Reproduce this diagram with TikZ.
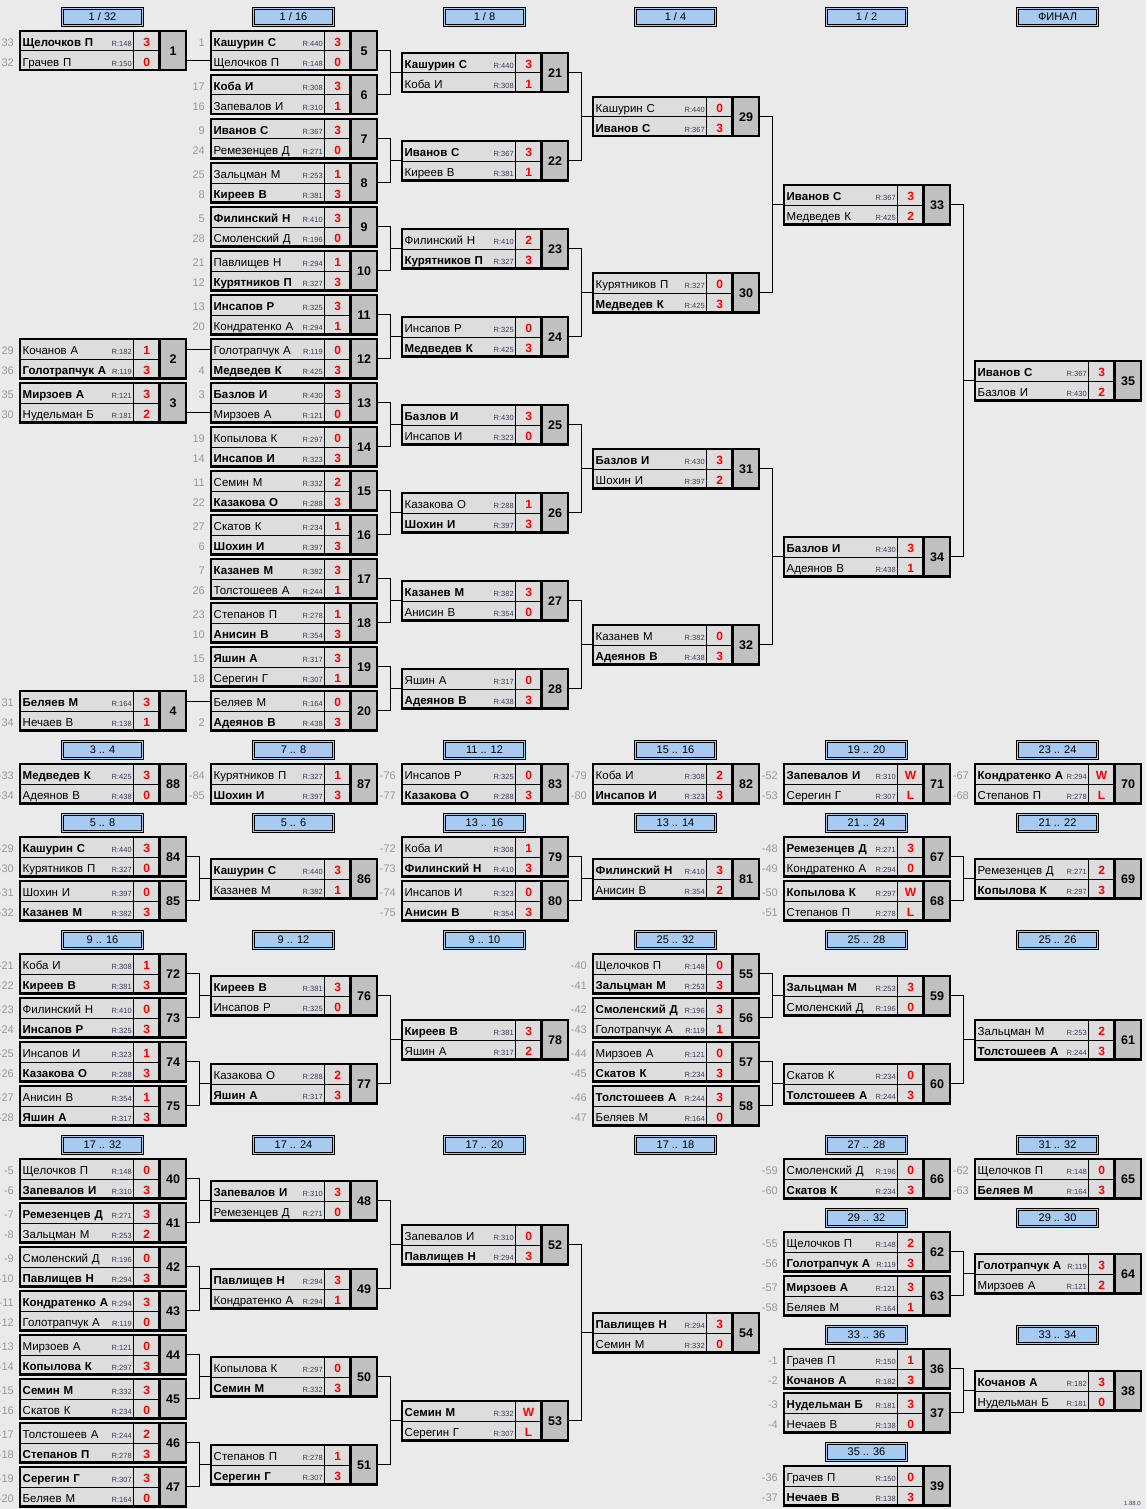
\documentclass[tikz,border=0pt]{standalone}
\usepackage{fontspec}
\setmainfont{Liberation Sans}
\usetikzlibrary{positioning}
\definecolor{bgcol}{HTML}{EAEAEA}
\definecolor{cellcol}{HTML}{DDDDDD}
\definecolor{numcol}{HTML}{C0C0C0}
\definecolor{hdrcol}{HTML}{A6CAF0}
\definecolor{ratecol}{HTML}{3C3C5C}
\definecolor{seedcol}{HTML}{999999}
\tikzset{
namecell/.style={
  fill=cellcol,
  text width=108pt,
  inner xsep=2.5pt,
  inner ysep=0pt,
  minimum height=19.5pt,
  text height=11pt,
  text depth=0pt,
  align=left,
  font=\fontsize{11.5}{13}\selectfont
 },
scorecell/.style={fill=cellcol, minimum width=26pt, minimum height=19.5pt, inner sep=0pt,
  text height=11pt, text depth=0pt, text=red, font=\fontsize{12}{13}\selectfont\bfseries},
numcell/.style={fill=numcol, minimum width=26pt, minimum height=39pt, inner sep=0pt,
  text height=10pt, text depth=0pt, font=\fontsize{12.5}{13}\selectfont\bfseries},
rating/.style={anchor=south east, inner xsep=1.5pt, inner ysep=4pt, text depth=0pt,
  text=ratecol, font=\fontsize{7.5}{8}\selectfont},
seed/.style={inner sep=0pt, text height=11pt, text depth=0pt, text=seedcol,
  font=\fontsize{11}{13}\selectfont},
hdr/.style={draw, fill=hdrcol, line width=0.9pt, minimum width=82pt, minimum height=19pt,
  inner sep=0pt, font=\fontsize{11}{13}\selectfont},
hdrin/.style={line width=0.9pt},
frame/.style={line width=2.2pt},
midbar/.style={line width=3pt},
cellline/.style={line width=0.8pt},
link/.style={draw, line width=0.9pt}
}
\newcommand{\W}[1]{\textbf{#1}}
% one match: number, x, y, name/rating/score of both rows
\newcommand{\drawmatch}[9]{%
  \node[namecell, anchor=north west] (a#1) at (#2,#3) {#4};
  \node[namecell, below=0pt of a#1] (b#1) {#7};
  \node[rating] (ra#1) at (a#1.south east) {R:#5};
  \node[rating] (rb#1) at (b#1.south east) {R:#8};
  \node[scorecell, right=0pt of a#1] (s#1) {#6};
  \node[scorecell, right=0pt of b#1] (t#1) {#9};
  \node[numcell, anchor=north west] (n#1) at (s#1.north east) {#1};
  \draw[cellline] (a#1.south west) -- (s#1.south east) (a#1.north east) -- (b#1.south east);
  \draw[frame] (a#1.north west) rectangle (n#1.south east);
  \draw[midbar] (s#1.north east) -- (t#1.south east);
}

\begin{document}
\begin{tikzpicture}[x=1pt, y=-1pt]
 \fill[bgcol] (0,0) rectangle (1146,1509);
 \useasboundingbox (0,0) rectangle (1146,1509);

 % headers
 \foreach \cx/\cy/\t [count=\i] in {102.5/17/{1 / 32}, 293.5/17/{1 / 16}, 484.5/17/{1 / 8},
   675.5/17/{1 / 4}, 866.5/17/{1 / 2}, 1057.5/17/ФИНАЛ,
   102.5/750/3 .. 4, 293.5/750/7 .. 8, 484.5/750/11 .. 12, 675.5/750/15 .. 16,
   866.5/750/19 .. 20, 1057.5/750/23 .. 24,
   102.5/823/5 .. 8, 293.5/823/5 .. 6, 484.5/823/13 .. 16, 675.5/823/13 .. 14,
   866.5/823/21 .. 24, 1057.5/823/21 .. 22,
   102.5/940/9 .. 16, 293.5/940/9 .. 12, 484.5/940/9 .. 10, 675.5/940/25 .. 32,
   866.5/940/25 .. 28, 1057.5/940/25 .. 26,
   102.5/1145/17 .. 32, 293.5/1145/17 .. 24, 484.5/1145/17 .. 20, 675.5/1145/17 .. 18,
   866.5/1145/27 .. 28, 1057.5/1145/31 .. 32,
   866.5/1218/29 .. 32, 1057.5/1218/29 .. 30, 866.5/1335/33 .. 36, 1057.5/1335/33 .. 34,
   866.5/1452/35 .. 36}
  {\node[hdr] (hd\i) at (\cx,\cy) {\t};
   \draw[hdrin] ([shift={(2.3pt,-2.3pt)}]hd\i.north west) rectangle ([shift={(-2.3pt,2.3pt)}]hd\i.south east);}

 % 1/32
 \drawmatch{1}{20}{31}{\W{Щелочков П}}{148}{3}{Грачев П}{150}{0}
 \drawmatch{2}{20}{339}{Кочанов А}{182}{1}{\W{Голотрапчук А}}{119}{3}
 \drawmatch{3}{20}{383}{\W{Мирзоев А}}{121}{3}{Нудельман Б}{181}{2}
 \drawmatch{4}{20}{691}{\W{Беляев М}}{164}{3}{Нечаев В}{138}{1}
 % 1/16
 \drawmatch{5}{211}{31}{\W{Кашурин С}}{440}{3}{Щелочков П}{148}{0}
 \drawmatch{6}{211}{75}{\W{Коба И}}{308}{3}{Запевалов И}{310}{1}
 \drawmatch{7}{211}{119}{\W{Иванов С}}{367}{3}{Ремезенцев Д}{271}{0}
 \drawmatch{8}{211}{163}{Зальцман М}{253}{1}{\W{Киреев В}}{381}{3}
 \drawmatch{9}{211}{207}{\W{Филинский Н}}{410}{3}{Смоленский Д}{196}{0}
 \drawmatch{10}{211}{251}{Павлищев Н}{294}{1}{\W{Курятников П}}{327}{3}
 \drawmatch{11}{211}{295}{\W{Инсапов Р}}{325}{3}{Кондратенко А}{294}{1}
 \drawmatch{12}{211}{339}{Голотрапчук А}{119}{0}{\W{Медведев К}}{425}{3}
 \drawmatch{13}{211}{383}{\W{Базлов И}}{430}{3}{Мирзоев А}{121}{0}
 \drawmatch{14}{211}{427}{Копылова К}{297}{0}{\W{Инсапов И}}{323}{3}
 \drawmatch{15}{211}{471}{Семин М}{332}{2}{\W{Казакова О}}{288}{3}
 \drawmatch{16}{211}{515}{Скатов К}{234}{1}{\W{Шохин И}}{397}{3}
 \drawmatch{17}{211}{559}{\W{Казанев М}}{382}{3}{Толстошеев А}{244}{1}
 \drawmatch{18}{211}{603}{Степанов П}{278}{1}{\W{Анисин В}}{354}{3}
 \drawmatch{19}{211}{647}{\W{Яшин А}}{317}{3}{Серегин Г}{307}{1}
 \drawmatch{20}{211}{691}{Беляев М}{164}{0}{\W{Адеянов В}}{438}{3}
 % 1/8
 \drawmatch{21}{402}{53}{\W{Кашурин С}}{440}{3}{Коба И}{308}{1}
 \drawmatch{22}{402}{141}{\W{Иванов С}}{367}{3}{Киреев В}{381}{1}
 \drawmatch{23}{402}{229}{Филинский Н}{410}{2}{\W{Курятников П}}{327}{3}
 \drawmatch{24}{402}{317}{Инсапов Р}{325}{0}{\W{Медведев К}}{425}{3}
 \drawmatch{25}{402}{405}{\W{Базлов И}}{430}{3}{Инсапов И}{323}{0}
 \drawmatch{26}{402}{493}{Казакова О}{288}{1}{\W{Шохин И}}{397}{3}
 \drawmatch{27}{402}{581}{\W{Казанев М}}{382}{3}{Анисин В}{354}{0}
 \drawmatch{28}{402}{669}{Яшин А}{317}{0}{\W{Адеянов В}}{438}{3}
 % 1/4
 \drawmatch{29}{593}{97}{Кашурин С}{440}{0}{\W{Иванов С}}{367}{3}
 \drawmatch{30}{593}{273}{Курятников П}{327}{0}{\W{Медведев К}}{425}{3}
 \drawmatch{31}{593}{449}{\W{Базлов И}}{430}{3}{Шохин И}{397}{2}
 \drawmatch{32}{593}{625}{Казанев М}{382}{0}{\W{Адеянов В}}{438}{3}
 % 1/2, final
 \drawmatch{33}{784}{185}{\W{Иванов С}}{367}{3}{Медведев К}{425}{2}
 \drawmatch{34}{784}{537}{\W{Базлов И}}{430}{3}{Адеянов В}{438}{1}
 \drawmatch{35}{975}{361}{\W{Иванов С}}{367}{3}{Базлов И}{430}{2}

 % places 3..24
 \drawmatch{88}{20}{764}{\W{Медведев К}}{425}{3}{Адеянов В}{438}{0}
 \drawmatch{87}{211}{764}{Курятников П}{327}{1}{\W{Шохин И}}{397}{3}
 \drawmatch{83}{402}{764}{Инсапов Р}{325}{0}{\W{Казакова О}}{288}{3}
 \drawmatch{82}{593}{764}{Коба И}{308}{2}{\W{Инсапов И}}{323}{3}
 \drawmatch{71}{784}{764}{\W{Запевалов И}}{310}{W}{Серегин Г}{307}{L}
 \drawmatch{70}{975}{764}{\W{Кондратенко А}}{294}{W}{Степанов П}{278}{L}
 \drawmatch{84}{20}{837}{\W{Кашурин С}}{440}{3}{Курятников П}{327}{0}
 \drawmatch{85}{20}{881}{Шохин И}{397}{0}{\W{Казанев М}}{382}{3}
 \drawmatch{86}{211}{859}{\W{Кашурин С}}{440}{3}{Казанев М}{382}{1}
 \drawmatch{79}{402}{837}{Коба И}{308}{1}{\W{Филинский Н}}{410}{3}
 \drawmatch{80}{402}{881}{Инсапов И}{323}{0}{\W{Анисин В}}{354}{3}
 \drawmatch{81}{593}{859}{\W{Филинский Н}}{410}{3}{Анисин В}{354}{2}
 \drawmatch{67}{784}{837}{\W{Ремезенцев Д}}{271}{3}{Кондратенко А}{294}{0}
 \drawmatch{68}{784}{881}{\W{Копылова К}}{297}{W}{Степанов П}{278}{L}
 \drawmatch{69}{975}{859}{Ремезенцев Д}{271}{2}{\W{Копылова К}}{297}{3}
 % places 9..32
 \drawmatch{72}{20}{954}{Коба И}{308}{1}{\W{Киреев В}}{381}{3}
 \drawmatch{73}{20}{998}{Филинский Н}{410}{0}{\W{Инсапов Р}}{325}{3}
 \drawmatch{74}{20}{1042}{Инсапов И}{323}{1}{\W{Казакова О}}{288}{3}
 \drawmatch{75}{20}{1086}{Анисин В}{354}{1}{\W{Яшин А}}{317}{3}
 \drawmatch{76}{211}{976}{\W{Киреев В}}{381}{3}{Инсапов Р}{325}{0}
 \drawmatch{77}{211}{1064}{Казакова О}{288}{2}{\W{Яшин А}}{317}{3}
 \drawmatch{78}{402}{1020}{\W{Киреев В}}{381}{3}{Яшин А}{317}{2}
 \drawmatch{55}{593}{954}{Щелочков П}{148}{0}{\W{Зальцман М}}{253}{3}
 \drawmatch{56}{593}{998}{\W{Смоленский Д}}{196}{3}{Голотрапчук А}{119}{1}
 \drawmatch{57}{593}{1042}{Мирзоев А}{121}{0}{\W{Скатов К}}{234}{3}
 \drawmatch{58}{593}{1086}{\W{Толстошеев А}}{244}{3}{Беляев М}{164}{0}
 \drawmatch{59}{784}{976}{\W{Зальцман М}}{253}{3}{Смоленский Д}{196}{0}
 \drawmatch{60}{784}{1064}{Скатов К}{234}{0}{\W{Толстошеев А}}{244}{3}
 \drawmatch{61}{975}{1020}{Зальцман М}{253}{2}{\W{Толстошеев А}}{244}{3}
 % places 17..36
 \drawmatch{40}{20}{1159}{Щелочков П}{148}{0}{\W{Запевалов И}}{310}{3}
 \drawmatch{41}{20}{1203}{\W{Ремезенцев Д}}{271}{3}{Зальцман М}{253}{2}
 \drawmatch{42}{20}{1247}{Смоленский Д}{196}{0}{\W{Павлищев Н}}{294}{3}
 \drawmatch{43}{20}{1291}{\W{Кондратенко А}}{294}{3}{Голотрапчук А}{119}{0}
 \drawmatch{44}{20}{1335}{Мирзоев А}{121}{0}{\W{Копылова К}}{297}{3}
 \drawmatch{45}{20}{1379}{\W{Семин М}}{332}{3}{Скатов К}{234}{0}
 \drawmatch{46}{20}{1423}{Толстошеев А}{244}{2}{\W{Степанов П}}{278}{3}
 \drawmatch{47}{20}{1467}{\W{Серегин Г}}{307}{3}{Беляев М}{164}{0}
 \drawmatch{48}{211}{1181}{\W{Запевалов И}}{310}{3}{Ремезенцев Д}{271}{0}
 \drawmatch{49}{211}{1269}{\W{Павлищев Н}}{294}{3}{Кондратенко А}{294}{1}
 \drawmatch{50}{211}{1357}{Копылова К}{297}{0}{\W{Семин М}}{332}{3}
 \drawmatch{51}{211}{1445}{Степанов П}{278}{1}{\W{Серегин Г}}{307}{3}
 \drawmatch{52}{402}{1225}{Запевалов И}{310}{0}{\W{Павлищев Н}}{294}{3}
 \drawmatch{53}{402}{1401}{\W{Семин М}}{332}{W}{Серегин Г}{307}{L}
 \drawmatch{54}{593}{1313}{\W{Павлищев Н}}{294}{3}{Семин М}{332}{0}
 \drawmatch{66}{784}{1159}{Смоленский Д}{196}{0}{\W{Скатов К}}{234}{3}
 \drawmatch{62}{784}{1232}{Щелочков П}{148}{2}{\W{Голотрапчук А}}{119}{3}
 \drawmatch{63}{784}{1276}{\W{Мирзоев А}}{121}{3}{Беляев М}{164}{1}
 \drawmatch{36}{784}{1349}{Грачев П}{150}{1}{\W{Кочанов А}}{182}{3}
 \drawmatch{37}{784}{1393}{\W{Нудельман Б}}{181}{3}{Нечаев В}{138}{0}
 \drawmatch{39}{784}{1466}{Грачев П}{150}{0}{\W{Нечаев В}}{138}{3}
 \drawmatch{65}{975}{1159}{Щелочков П}{148}{0}{\W{Беляев М}}{164}{3}
 \drawmatch{64}{975}{1254}{\W{Голотрапчук А}}{119}{3}{Мирзоев А}{121}{2}
 \drawmatch{38}{975}{1371}{\W{Кочанов А}}{182}{3}{Нудельман Б}{181}{0}

 % seeds and loser numbers
 \foreach \m/\p in {1/33, 2/29, 3/35, 4/31, 5/1, 6/17, 7/9, 8/25, 9/5, 10/21, 11/13, 13/3,
   14/19, 15/11, 16/27, 17/7, 18/23, 19/15, 88/-33, 87/-84, 83/-76, 82/-79, 71/-52, 70/-67,
   84/-29, 85/-31, 79/-72, 80/-74, 67/-48, 68/-50, 72/-21, 73/-23, 74/-25, 75/-27,
   55/-40, 56/-42, 57/-44, 58/-46, 40/-5, 41/-7, 42/-9, 43/-11, 44/-13, 45/-15, 46/-17,
   47/-19, 66/-59, 62/-55, 63/-57, 36/-1, 37/-3, 39/-36, 65/-62}
  {\node[seed, left=6pt of a\m] (sa\m) {\p};}
 \foreach \m/\p in {1/32, 2/36, 3/30, 4/34, 6/16, 7/24, 8/8, 9/28, 10/12, 11/20, 12/4,
   14/14, 15/22, 16/6, 17/26, 18/10, 19/18, 20/2, 88/-34, 87/-85, 83/-77, 82/-80, 71/-53,
   70/-68, 84/-30, 85/-32, 79/-73, 80/-75, 67/-49, 68/-51, 72/-22, 73/-24, 74/-26, 75/-28,
   55/-41, 56/-43, 57/-45, 58/-47, 40/-6, 41/-8, 42/-10, 43/-12, 44/-14, 45/-16, 46/-18,
   47/-20, 66/-60, 62/-56, 63/-58, 36/-2, 37/-4, 39/-37, 65/-63}
  {\node[seed, left=6pt of b\m] (sb\m) {\p};}

 % connectors
 \draw[link] (n1.east |- b5.west) -- (b5.west);
 \draw[link] (n2.east |- a12.west) -- (a12.west);
 \draw[link] (n3.east |- b13.west) -- (b13.west);
 \draw[link] (n4.east |- a20.west) -- (a20.west);
 \foreach \p/\q/\r in {5/6/21, 7/8/22, 9/10/23, 11/12/24, 13/14/25, 15/16/26, 17/18/27,
   19/20/28, 21/22/29, 23/24/30, 25/26/31, 27/28/32, 29/30/33, 31/32/34, 33/34/35,
   84/85/86, 79/80/81, 67/68/69, 72/73/76, 74/75/77, 76/77/78, 55/56/59, 57/58/60,
   59/60/61, 40/41/48, 42/43/49, 44/45/50, 46/47/51, 48/49/52, 50/51/53, 52/53/54,
   62/63/64, 36/37/38}
 {\draw[link] (n\p.east) -- ++(13,0) |- (a\r.south west);
  \draw[link] (n\q.east) -- ++(13,0) |- (a\r.south west);}

 \node[anchor=east, inner sep=0pt, text=ratecol, font=\fontsize{6}{7}\selectfont] (ver) at (1141,1503) {1.88.0};
\end{tikzpicture}
\end{document}
